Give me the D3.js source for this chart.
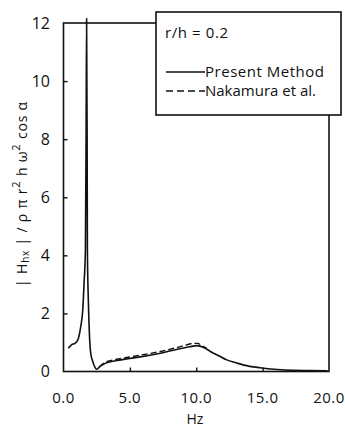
<!DOCTYPE html>
<html><head><meta charset="utf-8">
<script src="https://cdn.jsdelivr.net/npm/d3@7"></script>
<style>
html,body{margin:0;padding:0;background:#fff;}
svg{display:block;}
text{font-family:"Open Sans",Lato,sans-serif;fill:#111;}
</style></head>
<body>
<svg id="c" width="345" height="429"></svg>
<script>
const presentHz  = [0.36, 0.6, 0.87, 1.12, 1.3, 1.45, 1.55, 1.65, 1.70, 1.74, 1.78, 1.80, 1.87, 1.95, 2.05, 2.2, 2.5, 2.8, 3.13, 3.9, 5.0, 6.0, 7.3, 8.5, 9.5, 10.05, 10.6, 11.1, 11.7, 12.3, 13.0, 13.6, 14.8, 16.1, 17.3, 18.5, 19.9];
const presentVal = [0.80, 0.92, 0.97, 1.14, 1.55, 2.12, 3.04, 4.19, 8.0, 12.15, 8.0, 4.19, 2.47, 1.32, 0.63, 0.35, 0.08, 0.20, 0.28, 0.37, 0.45, 0.52, 0.63, 0.76, 0.85, 0.89, 0.82, 0.68, 0.54, 0.40, 0.30, 0.22, 0.13, 0.07, 0.04, 0.03, 0.02];
const nakamuraHz  = [2.7, 3.2, 4.0, 5.0, 6.0, 7.3, 8.5, 9.3, 9.8, 10.1, 10.4, 10.8];
const nakamuraVal = [0.15, 0.33, 0.42, 0.50, 0.58, 0.69, 0.82, 0.92, 0.97, 0.97, 0.90, 0.80];
const xTicks = [0, 5, 10, 15, 20];
const xTickLabels = ["0.0", "5.0", "10.0", "15.0", "20.0"];
const yTicks = [0, 2, 4, 6, 8, 10, 12];
const legendTitle = "r/h = 0.2";
const seriesNames = ["Present Method", "Nakamura et al."];

const svg = d3.select("#c");
const L = 63.5, R = 329, T = 23, B = 371.5;
const x = d3.scaleLinear().domain([0, 20]).range([L, R]);
const y = d3.scaleLinear().domain([0, 12]).range([B, T]);

// frame
svg.append("rect").attr("x", L).attr("y", T).attr("width", R - L).attr("height", B - T)
  .attr("fill", "none").attr("stroke", "#111").attr("stroke-width", 1.6);

// ticks (inside)
const yAxis = d3.axisRight(y).tickValues(yTicks.filter(v => v > 0 && v < 12)).tickSize(4).tickFormat("");
const gy = svg.append("g").attr("transform", `translate(${L},0)`).call(yAxis);
gy.select(".domain").remove();
gy.selectAll("line").attr("stroke", "#111").attr("stroke-width", 1.4);
const xAxis = d3.axisTop(x).tickValues(xTicks.filter(v => v > 0 && v < 20)).tickSize(4).tickFormat("");
const gx = svg.append("g").attr("transform", `translate(0,${B})`).call(xAxis);
gx.select(".domain").remove();
gx.selectAll("line").attr("stroke", "#111").attr("stroke-width", 1.4);

// tick labels
svg.append("g").selectAll("text").data(yTicks).join("text")
  .attr("x", 50).attr("y", d => y(d)).attr("dy", "0.36em").attr("text-anchor", "end")
  .attr("font-size", 16).text(d => d);
svg.append("g").selectAll("text").data(xTicks).join("text")
  .attr("x", d => x(d)).attr("y", 403).attr("text-anchor", "middle")
  .attr("font-size", 15).attr("letter-spacing", 0.5).text((d, i) => xTickLabels[i]);

// axis titles
svg.append("text").attr("x", 195).attr("y", 424).attr("text-anchor", "middle")
  .attr("font-size", 14).text("Hz");
const yl = svg.append("text").attr("transform", "translate(27,194) rotate(-90)")
  .attr("text-anchor", "middle").attr("font-size", 14).attr("letter-spacing", 0.8);
yl.append("tspan").text("| H");
yl.append("tspan").attr("font-size", 10).attr("dy", 2).text("hx");
yl.append("tspan").attr("dy", -2).text(" | / ρ π r");
yl.append("tspan").attr("font-size", 11).attr("dy", -7).text("2");
yl.append("tspan").attr("dy", 7).text(" h ω");
yl.append("tspan").attr("font-size", 11).attr("dy", -7).text("2");
yl.append("tspan").attr("dy", 7).text(" cos α");

// series
const line = d3.line().x(d => x(d[0])).y(d => y(d[1])).curve(d3.curveMonotoneX);
const presentData = presentHz.map((h, i) => [h, presentVal[i]]);
const nakData = nakamuraHz.map((h, i) => [h, nakamuraVal[i]]);
svg.append("path").datum(nakData).attr("d", line).attr("fill", "none")
  .attr("stroke", "#111").attr("stroke-width", 1.4).attr("stroke-dasharray", "6,3");
svg.append("path").datum(presentData).attr("d", line).attr("fill", "none")
  .attr("stroke", "#111").attr("stroke-width", 1.6);

// legend
const lg = svg.append("g");
lg.append("rect").attr("x", 156).attr("y", 12).attr("width", 185).attr("height", 103)
  .attr("fill", "#fff").attr("stroke", "#111").attr("stroke-width", 1.6);
lg.append("text").attr("x", 165).attr("y", 38).attr("font-size", 15)
  .attr("textLength", 63).attr("lengthAdjust", "spacing").text(legendTitle);
lg.append("line").attr("x1", 166).attr("x2", 205).attr("y1", 72).attr("y2", 72)
  .attr("stroke", "#111").attr("stroke-width", 1.4);
lg.append("line").attr("x1", 166).attr("x2", 205).attr("y1", 91).attr("y2", 91)
  .attr("stroke", "#111").attr("stroke-width", 1.4).attr("stroke-dasharray", "7,4");
lg.append("text").attr("x", 205).attr("y", 77).attr("font-size", 15)
  .attr("textLength", 119).attr("lengthAdjust", "spacing").text(seriesNames[0]);
lg.append("text").attr("x", 205).attr("y", 96).attr("font-size", 15)
  .attr("textLength", 111).attr("lengthAdjust", "spacing").text(seriesNames[1]);
</script>
</body></html>
